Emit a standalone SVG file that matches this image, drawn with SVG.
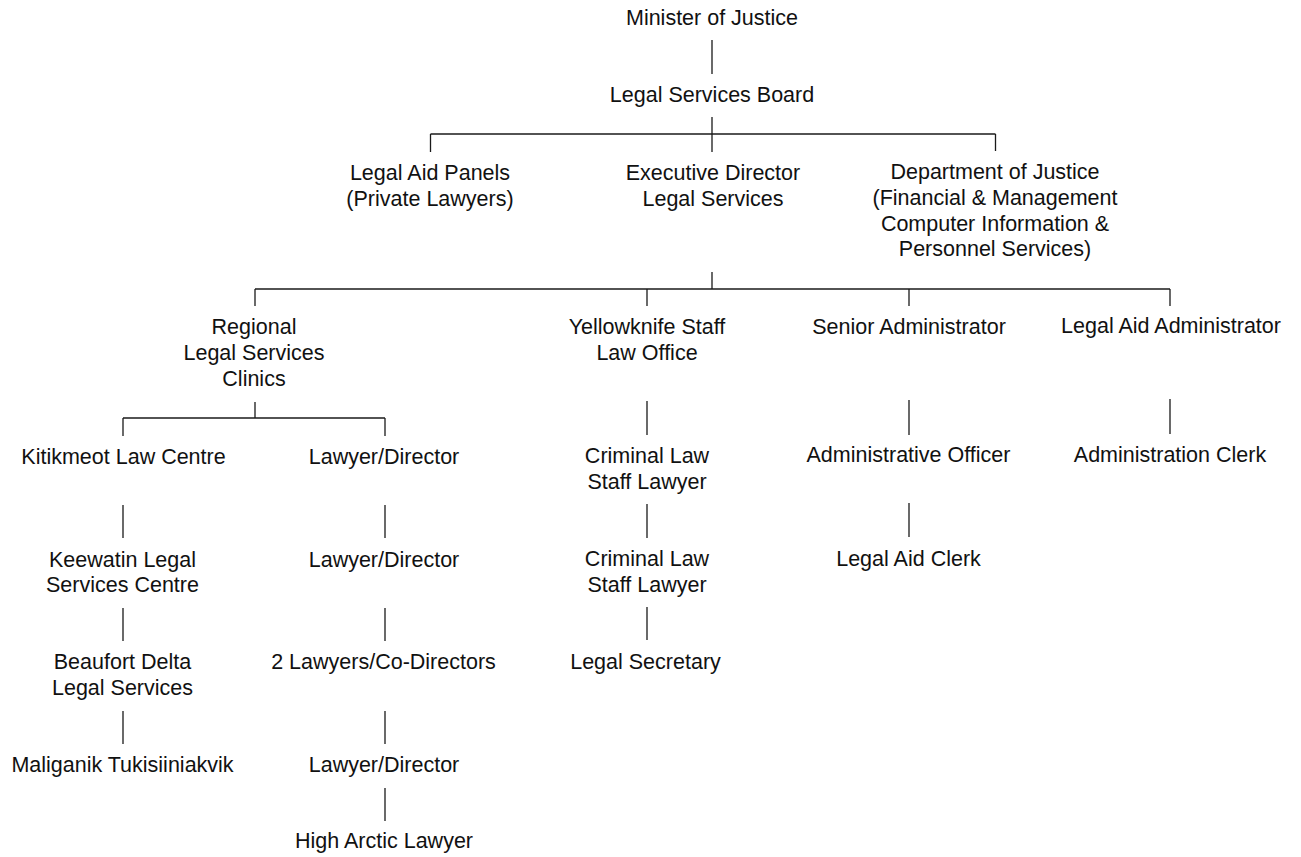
<svg xmlns="http://www.w3.org/2000/svg" width="1301" height="857" viewBox="0 0 1301 857">
<style>
text{font-family:"Liberation Sans",Arial,sans-serif;font-size:21.5px;fill:#111;text-anchor:middle}
.c line{stroke:#1a1a1a;stroke-width:1.3;fill:none}
</style>
<rect width="1301" height="857" fill="#fff"/>
<g id="connectors" class="c">
<line x1="712" y1="40" x2="712" y2="74"/>
<line x1="712" y1="117" x2="712" y2="152"/>
<line x1="430.5" y1="134" x2="995.5" y2="134"/>
<line x1="430.5" y1="134" x2="430.5" y2="152"/>
<line x1="995.5" y1="134" x2="995.5" y2="151"/>
<line x1="712" y1="272" x2="712" y2="289"/>
<line x1="255" y1="289" x2="1170" y2="289"/>
<line x1="255" y1="289" x2="255" y2="306"/>
<line x1="647" y1="289" x2="647" y2="306"/>
<line x1="909" y1="289" x2="909" y2="306"/>
<line x1="1170" y1="289" x2="1170" y2="306"/>
<line x1="255" y1="402" x2="255" y2="418"/>
<line x1="123" y1="418" x2="385" y2="418"/>
<line x1="123" y1="418" x2="123" y2="436"/>
<line x1="385" y1="418" x2="385" y2="436"/>
<line x1="123" y1="505" x2="123" y2="538"/>
<line x1="123" y1="608" x2="123" y2="641"/>
<line x1="123" y1="711" x2="123" y2="744"/>
<line x1="385" y1="505" x2="385" y2="538"/>
<line x1="385" y1="608" x2="385" y2="641"/>
<line x1="385" y1="711" x2="385" y2="744"/>
<line x1="385" y1="788" x2="385" y2="821"/>
<line x1="647" y1="401" x2="647" y2="435"/>
<line x1="647" y1="504" x2="647" y2="538"/>
<line x1="647" y1="607" x2="647" y2="640"/>
<line x1="909" y1="400" x2="909" y2="435"/>
<line x1="909" y1="503" x2="909" y2="537"/>
<line x1="1170" y1="399" x2="1170" y2="434"/>
</g>
<g id="minister"><text x="712" y="25">Minister of Justice</text></g>
<g id="board"><text x="712" y="102">Legal Services Board</text></g>
<g id="panels"><text x="430" y="180">Legal Aid Panels</text><text x="430" y="206">(Private Lawyers)</text></g>
<g id="executive"><text x="713" y="180">Executive Director</text><text x="713" y="206">Legal Services</text></g>
<g id="department"><text x="995" y="179">Department of Justice</text><text x="995" y="205">(Financial &amp; Management</text><text x="995" y="230.5">Computer Information &amp;</text><text x="995" y="256">Personnel Services)</text></g>
<g id="regional"><text x="254" y="334">Regional</text><text x="254" y="360">Legal Services</text><text x="254" y="386">Clinics</text></g>
<g id="yellowknife"><text x="647" y="334">Yellowknife Staff</text><text x="647" y="360">Law Office</text></g>
<g id="senior-admin"><text x="909" y="334">Senior Administrator</text></g>
<g id="legal-aid-admin"><text x="1171" y="333">Legal Aid Administrator</text></g>
<g id="kitikmeot"><text x="123.5" y="464">Kitikmeot Law Centre</text></g>
<g id="keewatin"><text x="122.5" y="567">Keewatin Legal</text><text x="122.5" y="592">Services Centre</text></g>
<g id="beaufort"><text x="122.5" y="669">Beaufort Delta</text><text x="122.5" y="695">Legal Services</text></g>
<g id="maliganik"><text x="122.5" y="772">Maliganik Tukisiiniakvik</text></g>
<g id="lawyer-director-1"><text x="384" y="464">Lawyer/Director</text></g>
<g id="lawyer-director-2"><text x="384" y="567">Lawyer/Director</text></g>
<g id="co-directors"><text x="383.5" y="669">2 Lawyers/Co-Directors</text></g>
<g id="lawyer-director-3"><text x="384" y="772">Lawyer/Director</text></g>
<g id="high-arctic"><text x="384" y="848">High Arctic Lawyer</text></g>
<g id="criminal-1"><text x="647" y="463">Criminal Law</text><text x="647" y="489">Staff Lawyer</text></g>
<g id="criminal-2"><text x="647" y="566">Criminal Law</text><text x="647" y="592">Staff Lawyer</text></g>
<g id="legal-secretary"><text x="645.5" y="669">Legal Secretary</text></g>
<g id="admin-officer"><text x="908.5" y="462">Administrative Officer</text></g>
<g id="legal-aid-clerk"><text x="908.5" y="566">Legal Aid Clerk</text></g>
<g id="admin-clerk"><text x="1170" y="462">Administration Clerk</text></g>
</svg>
